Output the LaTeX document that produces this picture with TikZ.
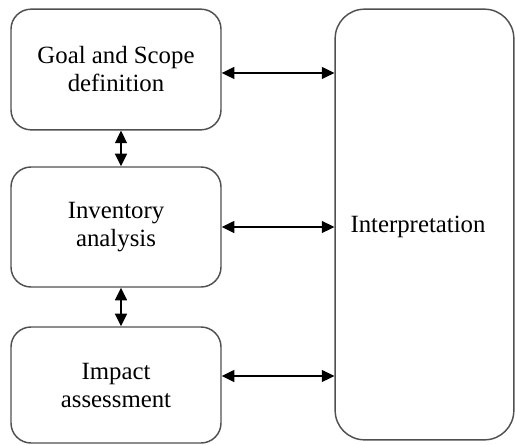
\documentclass[tikz,border=0pt]{standalone}
\usepackage{fontspec}
\setmainfont{Liberation Serif}
\usepackage{xcolor}
\usetikzlibrary{arrows.meta,positioning,calc}
\definecolor{boxline}{HTML}{505050}
\tikzset{
  stagebox/.style={draw=boxline, line width=1.1pt, rounded corners=15pt, align=center,
    minimum width=157.5pt, inner sep=2pt, font=\fontsize{18.6}{21}\selectfont},
  interpbox/.style={draw=boxline, line width=1.1pt, rounded corners=22pt, align=center,
    minimum width=134pt, minimum height=323pt},
  biarrow/.style={{Triangle[length=9.5pt,width=9pt]}-{Triangle[length=9.5pt,width=9pt]}, line width=1.1pt}
}
\begin{document}
\begin{tikzpicture}[x=0.75pt,y=-0.75pt]
\useasboundingbox (0,0) rectangle (515,444);
\node[stagebox, minimum height=90.5pt] (goal) at (116,69.5) {Goal and Scope\\definition};
\node[stagebox, minimum height=90pt] (inventory) at (116,227) {Inventory\\analysis};
\node[stagebox, minimum height=87pt] (impact) at (116,385) {Impact\\assessment};
\node[interpbox] (interp) at (424.5,224.5) {};
\node[font=\fontsize{18.6}{21}\selectfont] (interplabel) at (418,227) {Interpretation};
% links
\draw[biarrow] ([xshift=3.75pt]goal.south) -- ([xshift=3.75pt]inventory.north);
\draw[biarrow] ([xshift=3.75pt]inventory.south) -- ([xshift=3.75pt]impact.north);
\draw[biarrow] ([yshift=-2.6pt]goal.east) -- ([yshift=-2.6pt]goal.east -| interp.west);
\draw[biarrow] (inventory.east) -- (inventory.east -| interp.west);
\draw[biarrow] ([yshift=6.75pt]impact.east) -- ([yshift=6.75pt]impact.east -| interp.west);
\end{tikzpicture}
\end{document}
